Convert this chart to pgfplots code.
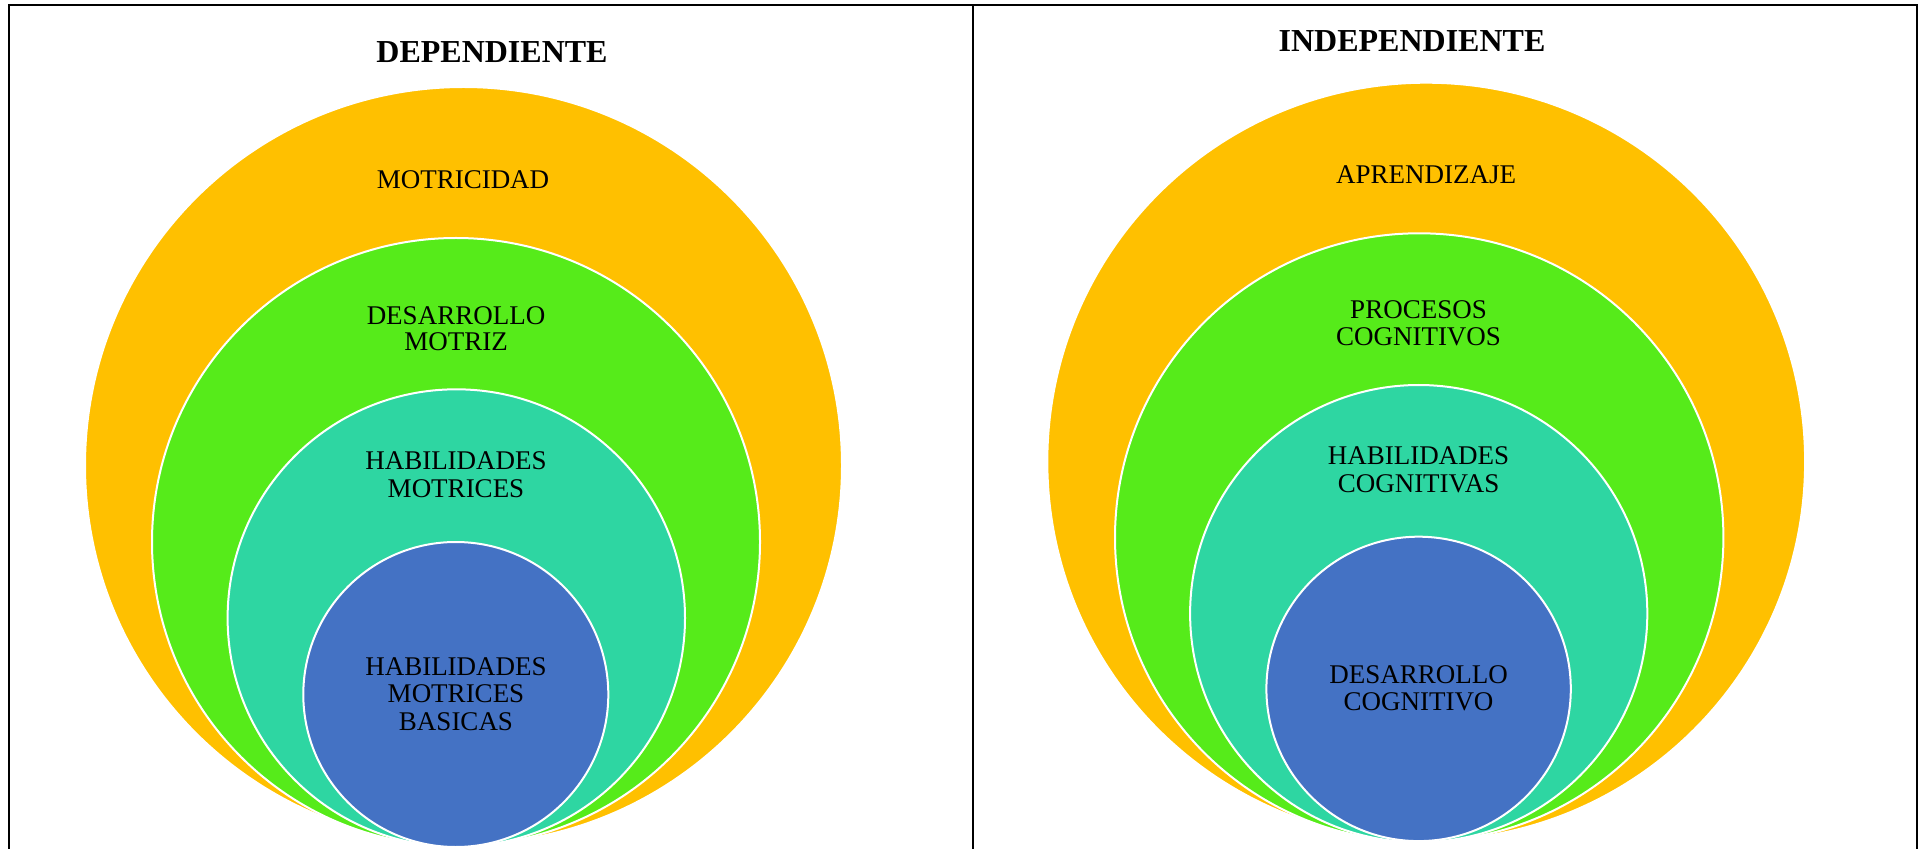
\documentclass[border=0pt]{standalone}
\usepackage{pgfplots}
\pgfplotsset{compat=1.18}
\usepackage{pgfplotstable}
\usepackage{fontspec}
\setmainfont{Liberation Serif}
\definecolor{cO}{HTML}{FFC000}
\definecolor{cG}{HTML}{56EB1A}
\definecolor{cT}{HTML}{2ED6A2}
\definecolor{cB}{HTML}{4472C4}
\newcommand\body{\fontsize{13.5}{13.75}\selectfont}
\newcommand\ttl{\fontsize{16}{18}\selectfont\bfseries}

% circles: centre (cx,cy) and radius r, in image pixels (y downwards)
\pgfplotstableread{
cx cy r
463.5 465.5 378.5
1426.2 461.6 378.9
}\circO
\pgfplotstableread{
cx cy r
456.0 542.0 304.0
1419.2 537.5 304.2
}\circG
\pgfplotstableread{
cx cy r
456.3 618.0 228.7
1418.7 613.6 228.6
}\circT
\pgfplotstableread{
cx cy r
455.8 694.5 152.5
1418.6 688.9 152.2
}\circB

\pgfplotsset{
  disc/.style={scatter, only marks, mark=*,
    scatter/use mapped color={draw=white, fill=#1},
    mark options={line width=1pt},
    visualization depends on={\thisrow{r} \as \rad},
    scatter/@pre marker code/.append style={/tikz/mark size=0.5*\rad}},
}

\begin{document}
\begin{tikzpicture}
\begin{axis}[
  x=0.5pt, y=0.5pt,
  xmin=0, xmax=1926, ymin=0, ymax=849,
  y dir=reverse,
  axis line style={draw=none},
  ticks=none,
  clip=true,
  clip marker paths=true,
]
\addplot[disc=cO] table[x=cx, y=cy] {\circO};
\addplot[disc=cG] table[x=cx, y=cy] {\circG};
\addplot[disc=cT] table[x=cx, y=cy] {\circT};
\addplot[disc=cB] table[x=cx, y=cy] {\circB};
% table borders
\addplot[black, line width=1pt, line join=miter, mark=none] coordinates {(9,860) (9,5) (1917,5) (1917,860)};
\addplot[black, line width=1pt, mark=none] coordinates {(973,5) (973,860)};

% left panel text
\node[anchor=base, font=\ttl] at (axis cs:492,63) {DEPENDIENTE};
\node[anchor=base, font=\body] at (axis cs:463,189) {MOTRICIDAD};
\node[anchor=base, font=\body] at (axis cs:456,324.3) {DESARROLLO};
\node[anchor=base, font=\body] at (axis cs:456,351) {MOTRIZ};
\node[anchor=base, font=\body] at (axis cs:456,470) {HABILIDADES};
\node[anchor=base, font=\body] at (axis cs:456,498) {MOTRICES};
\node[anchor=base, font=\body] at (axis cs:456,675) {HABILIDADES};
\node[anchor=base, font=\body] at (axis cs:456,702.5) {MOTRICES};
\node[anchor=base, font=\body] at (axis cs:456,730) {BASICAS};

% right panel text
\node[anchor=base, font=\ttl] at (axis cs:1412,52) {INDEPENDIENTE};
\node[anchor=base, font=\body] at (axis cs:1426,184) {APRENDIZAJE};
\node[anchor=base, font=\body] at (axis cs:1418.5,319) {PROCESOS};
\node[anchor=base, font=\body] at (axis cs:1418.5,346) {COGNITIVOS};
\node[anchor=base, font=\body] at (axis cs:1418.5,464.3) {HABILIDADES};
\node[anchor=base, font=\body] at (axis cs:1418.5,492.3) {COGNITIVAS};
\node[anchor=base, font=\body] at (axis cs:1418.5,683.3) {DESARROLLO};
\node[anchor=base, font=\body] at (axis cs:1418.5,710) {COGNITIVO};
\end{axis}
\end{tikzpicture}
\end{document}
